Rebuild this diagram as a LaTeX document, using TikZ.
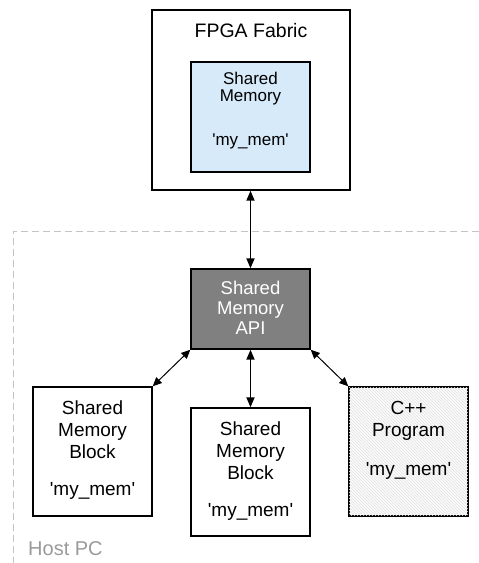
\documentclass[tikz,border=0pt]{standalone}
\usepackage{fontspec}
\setmainfont{Liberation Sans}
\usetikzlibrary{arrows.meta,patterns}
\definecolor{memblue}{HTML}{D6EAFA}
\definecolor{apigray}{HTML}{808080}
\definecolor{hostgray}{HTML}{9A9A9A}
\definecolor{dashgray}{HTML}{C4C4C4}
\newcommand{\mymem}{\textquotesingle my\_mem\textquotesingle}
\tikzset{
  box/.style={draw=black, line width=1.4pt, rectangle, inner sep=0pt},
  lbl/.style={align=center, font=\fontsize{19}{22}\selectfont, inner sep=0pt, anchor=base},
  toplbl/.style={lbl, font=\fontsize{17}{16.5}\selectfont},
  apilbl/.style={lbl, text=white, font=\fontsize{18.5}{20}\selectfont},
  link/.style={line width=1.8pt, {Triangle[length=10pt,width=8pt]}-{Triangle[length=10pt,width=8pt]}},
  dlink/.style={line width=1pt, {Triangle[length=9pt,width=8pt]}-{Triangle[length=9pt,width=8pt]}},
}
\begin{document}
\begin{tikzpicture}[x=1pt,y=-1pt]
\useasboundingbox (0,0) rectangle (479,563);
% host PC dashed region
\draw[dashgray, line width=1pt, dash pattern=on 7pt off 4pt] (490,231) -- (13,231) -- (13,575);
\node[lbl, text=hostgray, anchor=base west, font=\fontsize{20}{22}\selectfont] (host) at (28,555) {Host PC};
% FPGA
\node[box, minimum width=198pt, minimum height=180pt] (fpga) at (251,100) {};
\node[lbl, font=\fontsize{19.5}{22}\selectfont] (fpgalbl) at (251,37.5) {FPGA Fabric};
\node[box, fill=memblue, minimum width=119pt, minimum height=110pt] (smem) at (250.5,117) {};
\node[toplbl] (smemlbl) at (250.5,101) {Shared\\Memory};
\node[toplbl] (smemname) at (250.5,145) {\mymem};
% API
\node[box, fill=apigray, minimum width=119pt, minimum height=80pt] (api) at (250.5,309) {};
\node[apilbl] (apilbl) at (250.5,334.5) {Shared\\Memory\\API};
% bottom boxes
\node[box, minimum width=119pt, minimum height=129pt] (blk1) at (92.5,451.5) {};
\node[lbl] (blk1lbl) at (92.5,458.5) {Shared\\Memory\\Block};
\node[lbl] (blk1name) at (92.5,495) {\mymem};
\node[box, minimum width=119pt, minimum height=128pt] (blk2) at (250.5,472) {};
\node[lbl] (blk2lbl) at (250.5,479.5) {Shared\\Memory\\Block};
\node[lbl] (blk2name) at (250.5,516) {\mymem};
\node[box, fill=gray!4, minimum width=119pt, minimum height=129pt] (cpp) at (408.5,451.5) {};
\fill[pattern=north west lines, pattern color=gray!22] (cpp.south west) rectangle (cpp.north east);
\draw[line width=1.4pt] (cpp.south west) rectangle (cpp.north east);
\node[lbl] (cpplbl) at (408.5,436) {C++\\Program};
\node[lbl] (cppname) at (408.5,475) {\mymem};
% connectors
\draw[link] (fpga.south -| api.north) -- (api.north);
\draw[link] (api.south) -- (blk2.north -| api.south);
\draw[dlink] (api.south west) -- (blk1.north east);
\draw[dlink] (api.south east) -- (cpp.north west);
\end{tikzpicture}
\end{document}
